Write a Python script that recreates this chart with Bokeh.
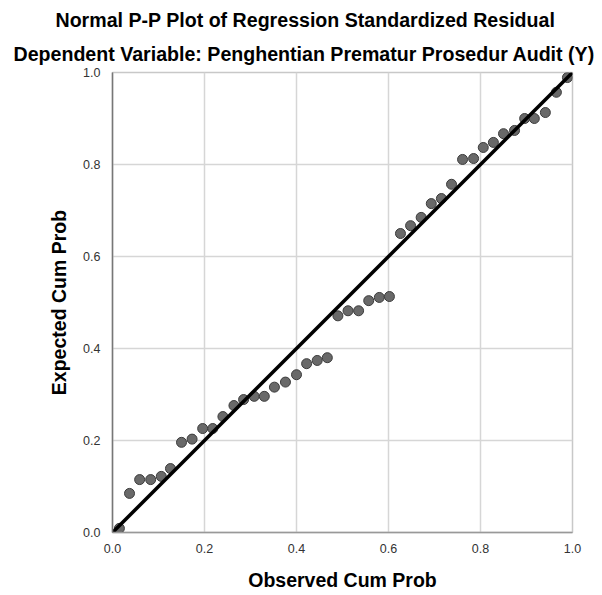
from bokeh.plotting import figure
from bokeh.models import Range1d, FixedTicker, PrintfTickFormatter, Title
from bokeh.embed import file_html
from bokeh.resources import INLINE

title_line1 = "Normal P-P Plot of Regression Standardized Residual"
title_line2 = "Dependent Variable: Penghentian Prematur Prosedur Audit (Y)"
x_label = "Observed Cum Prob"
y_label = "Expected Cum Prob"

tick_values = [0.0, 0.2, 0.4, 0.6, 0.8, 1.0]

observed_cum_prob = [0.015, 0.037, 0.059, 0.083, 0.106, 0.126, 0.150, 0.173, 0.196, 0.218,
                     0.240, 0.264, 0.285, 0.308, 0.330, 0.352, 0.376, 0.400, 0.422, 0.445,
                     0.467, 0.490, 0.512, 0.535, 0.557, 0.580, 0.602, 0.626, 0.648, 0.671,
                     0.693, 0.715, 0.737, 0.761, 0.785, 0.806, 0.828, 0.850, 0.874, 0.896,
                     0.917, 0.941, 0.965, 0.989]
expected_cum_prob = [0.009, 0.085, 0.115, 0.115, 0.122, 0.139, 0.196, 0.203, 0.226, 0.226,
                     0.252, 0.276, 0.289, 0.296, 0.296, 0.316, 0.327, 0.343, 0.367, 0.374,
                     0.380, 0.471, 0.482, 0.482, 0.504, 0.511, 0.513, 0.650, 0.667, 0.685,
                     0.715, 0.726, 0.757, 0.811, 0.813, 0.837, 0.848, 0.867, 0.874, 0.900,
                     0.900, 0.913, 0.957, 0.989]
reference_line = [0.0, 1.0]

FONT = "Liberation Sans"

p = figure(width=602, height=595, output_backend="svg", toolbar_location=None,
           x_range=Range1d(0, 1), y_range=Range1d(0, 1),
           min_border_left=112, min_border_right=30, min_border_top=72, min_border_bottom=63)
p.title.text = ""
p.title.visible = False

sub = Title(text=title_line2, align="left", offset=-99, text_font=FONT,
            text_font_size="19.6px", text_font_style="bold", text_color="#000000", standoff=16)
main = Title(text=title_line1, align="left", offset=-57, text_font=FONT,
             text_font_size="19.6px", text_font_style="bold", text_color="#000000", standoff=4)
p.add_layout(sub, "above")
p.add_layout(main, "above")

p.background_fill_color = "white"
p.border_fill_color = "white"
p.outline_line_color = "#c8c8c8"
p.outline_line_width = 1.5

for ax in (p.xaxis, p.yaxis):
    ax.ticker = FixedTicker(ticks=tick_values)
    ax.formatter = PrintfTickFormatter(format="%.1f")
    ax.major_tick_line_color = None
    ax.minor_tick_line_color = None
    ax.major_label_text_font = FONT
    ax.major_label_text_font_size = "12.5px"
    ax.major_label_text_color = "#333333"
    ax.axis_label_text_font = FONT
    ax.axis_label_text_font_size = "19.5px"
    ax.axis_label_text_font_style = "bold"
    ax.axis_label_text_color = "#000000"

p.xaxis.axis_label = x_label
p.yaxis.axis_label = y_label
p.xaxis.axis_line_color = "#999999"
p.yaxis.axis_line_color = "#777777"
p.xaxis.axis_line_width = 1.5
p.yaxis.axis_line_width = 1.5
p.xaxis.major_label_standoff = 5
p.yaxis.major_label_standoff = 6
p.xaxis.axis_label_standoff = 13
p.yaxis.axis_label_standoff = 10

p.grid.grid_line_color = "#d6d6d6"
p.grid.grid_line_width = 1.5

p.scatter(observed_cum_prob, expected_cum_prob, size=10, fill_color="#696969",
          line_color="#3c3c3c", line_width=1)
p.line(reference_line, reference_line, line_color="#000000", line_width=3.5)

open("out.html", "w").write(file_html(p, INLINE))
